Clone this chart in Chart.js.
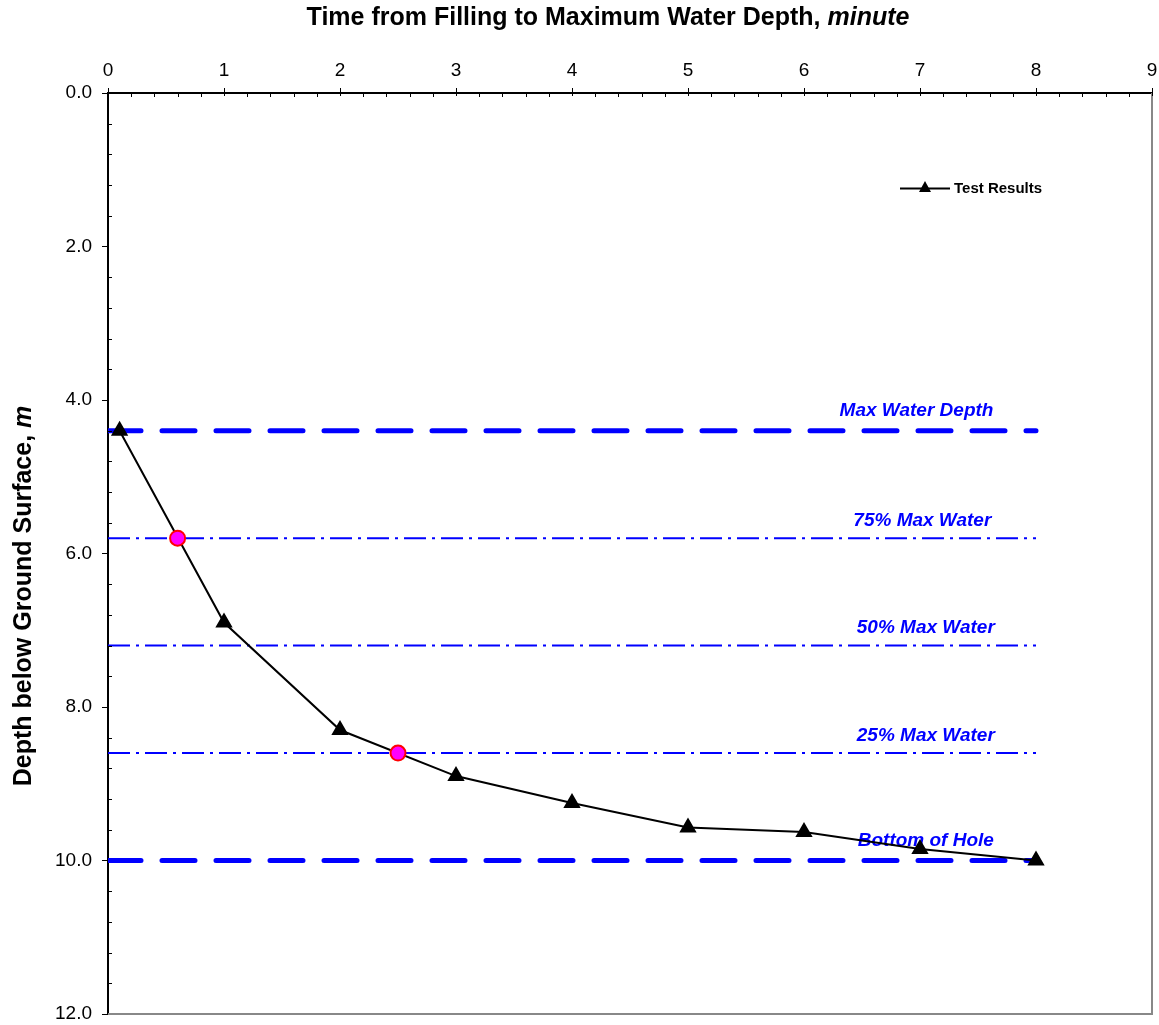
<!DOCTYPE html>
<html>
<head>
<meta charset="utf-8">
<script src="https://cdn.jsdelivr.net/npm/chart.js@4"></script>
<style>
  html, body { margin: 0; padding: 0; background: #fff; }
  #wrap { width: 1159px; height: 1025px; }
</style>
</head>
<body>
<div id="wrap"><canvas id="chart"></canvas></div>
<script>
const timeMin = [0.1, 1, 2, 3, 4, 5, 6, 7, 8];
const depthM = [4.4, 6.9, 8.3, 8.9, 9.25, 9.57, 9.63, 9.85, 10.0];

const markTime = [0.6, 2.5];
const markDepth = [5.8, 8.6];

const refNames = ['Max Water Depth', '75% Max Water', '50% Max Water', '25% Max Water', 'Bottom of Hole'];
const refDepth = [4.4, 5.8, 7.2, 8.6, 10.0];
const refLabelX = [6.97, 7.02, 7.05, 7.05, 7.05];
const refStart = 0;
const refEnd = 8;

const xTicks = [0, 1, 2, 3, 4, 5, 6, 7, 8, 9];
const yTicks = [0, 2, 4, 6, 8, 10, 12];

const FONT = '"Liberation Sans", Arial, sans-serif';

// reference lines - thick dashes for max / bottom, dash-dot for the rest
const refSets = refDepth.map((d, i) => {
  const thick = i === 0 || i === refDepth.length - 1;
  return {
    label: refNames[i],
    data: [{ x: refStart, y: d }, { x: refEnd, y: d }],
    showLine: true,
    borderColor: '#0000ff',
    borderWidth: thick ? 5 : 2,
    borderDash: thick ? [33, 21] : [22, 6, 3, 6],
    borderCapStyle: thick ? 'round' : 'butt',
    pointRadius: 0,
    order: 3
  };
});

const refLabels = {
  id: 'refLabels',
  beforeDatasetsDraw(chart) {
    const { ctx, scales } = chart;
    ctx.save();
    ctx.fillStyle = '#0000ff';
    ctx.font = 'italic bold 19px ' + FONT;
    ctx.textAlign = 'center';
    ctx.textBaseline = 'bottom';
    refNames.forEach((name, i) => {
      const thick = i === 0 || i === refNames.length - 1;
      const x = scales.x.getPixelForValue(refLabelX[i]);
      const y = scales.y.getPixelForValue(refDepth[i]);
      ctx.fillText(name, x, y - (thick ? 10 : 8));
    });
    ctx.restore();
  }
};

function mixedText(ctx, a, b, cx, cy, size) {
  ctx.font = 'bold ' + size + 'px ' + FONT;
  const w1 = ctx.measureText(a).width;
  ctx.font = 'italic bold ' + size + 'px ' + FONT;
  const w2 = ctx.measureText(b).width;
  const x0 = cx - (w1 + w2) / 2;
  ctx.font = 'bold ' + size + 'px ' + FONT;
  ctx.fillText(a, x0, cy);
  ctx.font = 'italic bold ' + size + 'px ' + FONT;
  ctx.fillText(b, x0 + w1, cy);
}

const frame = {
  id: 'frame',
  afterDraw(chart) {
    const { ctx, chartArea: a, scales } = chart;
    ctx.save();
    // right and bottom border
    ctx.strokeStyle = '#888';
    ctx.lineWidth = 2;
    ctx.beginPath();
    ctx.moveTo(a.right, a.top);
    ctx.lineTo(a.right, a.bottom);
    ctx.lineTo(a.left, a.bottom);
    ctx.stroke();

    // minor ticks, pointing inward
    ctx.strokeStyle = '#000';
    ctx.lineWidth = 1;
    ctx.beginPath();
    for (let v = 0.2; v < 9; v += 0.2) {
      if (Math.abs(v - Math.round(v)) < 0.01) continue;
      const x = Math.round(scales.x.getPixelForValue(v)) + 0.5;
      ctx.moveTo(x, a.top);
      ctx.lineTo(x, a.top + 4);
    }
    for (let v = 0.4; v < 12; v += 0.4) {
      if (Math.abs(v / 2 - Math.round(v / 2)) < 0.01) continue;
      const y = Math.round(scales.y.getPixelForValue(v)) + 0.5;
      ctx.moveTo(a.left, y);
      ctx.lineTo(a.left + 4, y);
    }
    ctx.stroke();
    // major ticks poke slightly inward too
    ctx.beginPath();
    xTicks.forEach(v => {
      const x = Math.round(scales.x.getPixelForValue(v)) + 0.5;
      ctx.moveTo(x, a.top);
      ctx.lineTo(x, a.top + 3);
    });
    ctx.stroke();

    // axis titles, unit in italics
    ctx.fillStyle = '#000';
    ctx.textBaseline = 'middle';
    ctx.textAlign = 'left';
    mixedText(ctx, 'Time from Filling to Maximum Water Depth, ', 'minute', 608, 18, 25);

    ctx.save();
    ctx.translate(24, 596);
    ctx.rotate(-Math.PI / 2);
    mixedText(ctx, 'Depth below Ground Surface, ', 'm', 0, 0, 25);
    ctx.restore();

    // legend
    ctx.strokeStyle = '#000';
    ctx.lineWidth = 2;
    ctx.beginPath();
    ctx.moveTo(900, 188.5);
    ctx.lineTo(950, 188.5);
    ctx.stroke();
    ctx.beginPath();
    ctx.moveTo(925, 181);
    ctx.lineTo(931, 192);
    ctx.lineTo(919, 192);
    ctx.closePath();
    ctx.fill();
    ctx.font = 'bold 15px ' + FONT;
    ctx.fillText('Test Results', 954, 189);
    ctx.restore();
  }
};

new Chart(document.getElementById('chart'), {
  type: 'scatter',
  data: {
    datasets: [
      {
        label: 'Test Results',
        data: timeMin.map((t, i) => ({ x: t, y: depthM[i] })),
        showLine: true,
        borderColor: '#000',
        borderWidth: 2,
        pointStyle: 'triangle',
        pointRadius: 8,
        pointBackgroundColor: '#000',
        pointBorderColor: '#000',
        order: 2
      },
      {
        label: 'marks',
        data: markTime.map((t, i) => ({ x: t, y: markDepth[i] })),
        showLine: false,
        pointStyle: 'circle',
        pointRadius: 7.5,
        pointBackgroundColor: '#ff00ff',
        pointBorderColor: '#ff0000',
        pointBorderWidth: 2,
        order: 1
      },
      ...refSets
    ]
  },
  options: {
    responsive: true,
    maintainAspectRatio: false,
    animation: false,
    layout: { autoPadding: false, padding: { left: 0, top: 0, right: 7, bottom: 11 } },
    plugins: {
      legend: { display: false },
      tooltip: { enabled: false }
    },
    scales: {
      x: {
        type: 'linear',
        position: 'top',
        min: 0,
        max: 9,
        afterFit(scale) {
          scale.height = 93;
          scale.paddingLeft = 0;
          scale.paddingRight = 0;
        },
        afterBuildTicks(scale) { scale.ticks = xTicks.map(v => ({ value: v })); },
        ticks: {
          color: '#000',
          font: { family: FONT, size: 19 },
          padding: 6,
          maxRotation: 0
        },
        grid: { drawOnChartArea: false, drawTicks: true, tickLength: 5, color: '#000', lineWidth: 1 },
        border: { display: true, color: '#000', width: 2 }
      },
      y: {
        type: 'linear',
        reverse: true,
        min: 0,
        max: 12,
        afterFit(scale) {
          scale.width = 108;
          scale.paddingTop = 0;
          scale.paddingBottom = 0;
        },
        afterBuildTicks(scale) { scale.ticks = yTicks.map(v => ({ value: v })); },
        ticks: {
          color: '#000',
          font: { family: FONT, size: 19 },
          padding: 10,
          callback: v => Number(v).toFixed(1)
        },
        grid: { drawOnChartArea: false, drawTicks: true, tickLength: 6, color: '#000', lineWidth: 1 },
        border: { display: true, color: '#000', width: 2 }
      }
    }
  },
  plugins: [refLabels, frame]
});
</script>
</body>
</html>
